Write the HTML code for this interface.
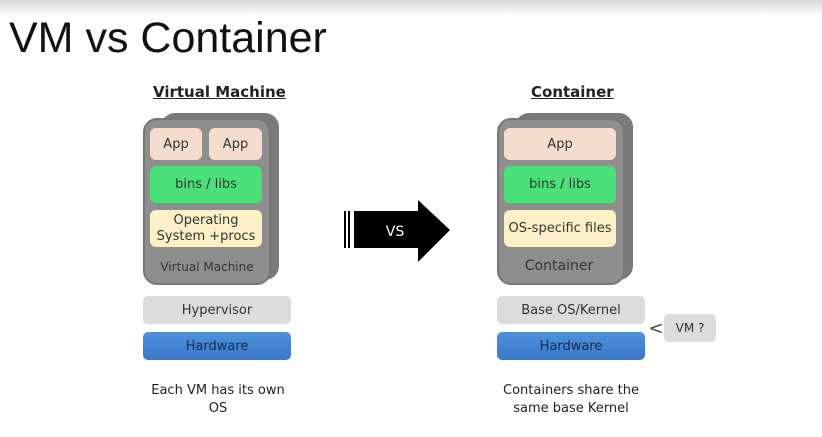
<!DOCTYPE html>
<html><head><style>
*{margin:0;padding:0;box-sizing:border-box}
body{width:822px;height:437px;background:#fff;position:relative;overflow:hidden;font-family:"DejaVu Sans","Liberation Sans",sans-serif;color:#333}
.a{position:absolute}
.c{display:flex;align-items:center;justify-content:center;text-align:center}
.card{background:#8e8e8e;border-radius:14px;border:2px solid #777}
.back{background:#7a7a7a;border-radius:14px}
.app{background:#f6dccd;border-radius:6px;font-size:13px}
.bins{background:#4be07a;border-radius:6px;font-size:13px}
.os{background:#fbf0c8;border-radius:6px;font-size:13px;line-height:16px}
.gray{background:#dcdcdc;border-radius:5px;font-size:13px}
.hw{background:linear-gradient(#4f91dc,#3a78c8);border-radius:5px;font-size:13px;color:#1b2a44}
.h{font-size:15px;font-weight:bold;text-decoration:underline;color:#222}
.cap{font-size:13px;text-align:center;line-height:18px;color:#222}
</style></head><body>
<div class="a" style="left:0;top:0;width:822px;height:16px;background:linear-gradient(#d8d8d8,#fff)"></div>
<div class="a" style="left:9px;top:14px;font-size:43px;font-family:'Liberation Sans',sans-serif;color:#111">VM vs Container</div>

<div class="a h" style="left:153px;top:83px">Virtual Machine</div>
<div class="a back" style="left:161px;top:113px;width:118px;height:167px"></div>
<div class="a card" style="left:143px;top:118px;width:128px;height:167px"></div>
<div class="a app c" style="left:150px;top:128px;width:52px;height:32px">App</div>
<div class="a app c" style="left:209px;top:128px;width:53px;height:32px">App</div>
<div class="a bins c" style="left:150px;top:166px;width:112px;height:37px">bins / libs</div>
<div class="a os c" style="left:150px;top:210px;width:112px;height:37px">Operating<br>System +procs</div>
<div class="a c" style="left:143px;top:258px;width:128px;height:18px;font-size:12px">Virtual Machine</div>
<div class="a gray c" style="left:143px;top:296px;width:148px;height:28px">Hypervisor</div>
<div class="a hw c" style="left:143px;top:332px;width:148px;height:28px">Hardware</div>
<div class="a cap" style="left:118px;top:382px;width:200px">Each VM has its own<br>OS</div>

<svg class="a" style="left:340px;top:198px" width="115" height="66">
<rect x="4" y="13" width="2" height="37" fill="#000"/>
<rect x="8" y="13" width="2" height="37" fill="#000"/>
<polygon points="14,13 78,13 78,2 110,32 78,64 78,50 14,50" fill="#000"/>
<text x="55" y="38" font-size="14" fill="#fff" text-anchor="middle" font-family="DejaVu Sans">VS</text>
</svg>

<div class="a h" style="left:531px;top:83px">Container</div>
<div class="a back" style="left:515px;top:113px;width:118px;height:167px"></div>
<div class="a card" style="left:497px;top:118px;width:128px;height:167px"></div>
<div class="a app c" style="left:504px;top:128px;width:112px;height:32px">App</div>
<div class="a bins c" style="left:504px;top:166px;width:112px;height:37px">bins / libs</div>
<div class="a os c" style="left:504px;top:210px;width:112px;height:37px">OS-specific files</div>
<div class="a c" style="left:497px;top:256px;width:124px;height:20px;font-size:14px">Container</div>
<div class="a gray c" style="left:497px;top:296px;width:148px;height:28px">Base OS/Kernel</div>
<div class="a hw c" style="left:497px;top:332px;width:148px;height:28px">Hardware</div>
<div class="a c" style="left:650px;top:316px;width:12px;height:24px;font-size:18px;color:#444">&lt;</div>
<div class="a gray c" style="left:664px;top:314px;width:52px;height:28px;font-size:12px">VM ?</div>
<div class="a cap" style="left:471px;top:382px;width:200px">Containers share the<br>same base Kernel</div>
</body></html>
